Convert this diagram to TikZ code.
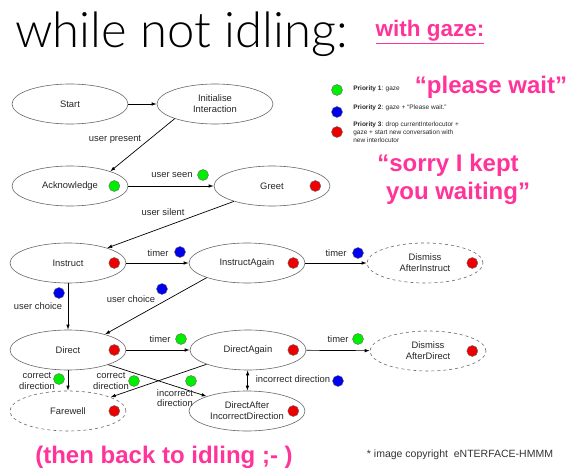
\documentclass[tikz,border=0pt]{standalone}
\usepackage{fontspec}
\setmainfont{Liberation Sans}
\newfontfamily\titlefont{Lato Light}
\usepackage{tikz}
\usetikzlibrary{positioning,calc,shapes.geometric,arrows.meta}
\usepackage{xcolor}
\definecolor{hotpink}{HTML}{FF3399}
\definecolor{dotgreen}{HTML}{00EE00}
\definecolor{dotblue}{HTML}{0000EE}
\definecolor{dotred}{HTML}{EE0000}

\tikzset{
  state/.style={ellipse,draw=black!60,line width=0.6pt,minimum width=116pt,minimum height=40pt,
    inner sep=0pt,align=center,font=\fontsize{9.4}{11}\selectfont,text=black!85},
  endstate/.style={state,dashed},
  lbl/.style={font=\fontsize{9.4}{10.5}\selectfont,text=black!85,inner sep=0pt,align=center},
  legend/.style={font=\fontsize{6.5}{8.3}\selectfont,text=black!85,inner sep=0pt,align=left,anchor=west},
  pinktext/.style={text=hotpink,font=\bfseries\fontsize{24}{28}\selectfont,inner sep=0pt},
  prio1/.style={fill=dotgreen,draw=black!60,line width=0.4pt},
  prio2/.style={fill=dotblue,draw=black!60,line width=0.4pt},
  prio3/.style={fill=dotred,draw=black!60,line width=0.4pt},
}

\begin{document}
\begin{tikzpicture}[x=1pt,y=-1pt,>={Latex[length=5pt,width=3.5pt]},line width=0.7pt]
\useasboundingbox (0,0) rectangle (575,470);

\node[anchor=base west,inner sep=0pt,font=\titlefont\fontsize{49}{50}\selectfont] (title) at (15,48) {while not idling:};
\node[text=hotpink,font=\bfseries\fontsize{22.5}{24}\selectfont,inner sep=0pt] (withgaze) at (430,32) {\underline{with gaze:}};

\node[state] (start) at (70,104) {Start};
\node[state] (init) at (215,104) {Initialise\\Interaction};
\node[state] (ack) at (70,186) {Acknowledge};
\node[state] (greet) at (272,186) {Greet};
\node[state] (instr) at (68,263) {Instruct};
\node[state] (instrAgain) at (247,263) {InstructAgain};
\node[endstate] (dismissI) at (425,263) {Dismiss\\AfterInstruct};
\node[state] (direct) at (68,350) {Direct};
\node[state] (directAgain) at (248,350) {DirectAgain};
\node[endstate] (dismissD) at (428,351) {Dismiss\\AfterDirect};
\node[endstate] (farewell) at (68,411) {Farewell};
\node[state] (dai) at (247,411) {DirectAfter\\IncorrectDirection};

\draw[->] (start) -- (init);
\draw[->] (init.200) -- (ack.20);
\draw[->] (ack) -- (greet);
\draw[->] (greet.202) -- (instr.21);
\draw[->] (instr) -- (instrAgain);
\draw[->] (instrAgain) -- (dismissI);
\draw[->] (instr) -- (direct);
\draw[->] (instrAgain.200) -- (direct.23);
\draw[->] (direct) -- (directAgain);
\draw[->] (directAgain) -- (dismissD);
\draw[->] (direct) -- (farewell);
\draw[->] (directAgain.199) -- (farewell.18);
\draw[->] (direct.340) -- (dai.160);
\draw[<->] (directAgain) -- (dai);

\node[lbl] (lPresent) at (115,139) {user present};
\node[lbl] (lSeen) at (172,175) {user seen};
\node[lbl] (lSilent) at (163,212) {user silent};
\node[lbl] (lTimer1) at (158,253) {timer};
\node[lbl] (lTimer2) at (336,253) {timer};
\node[lbl] (lChoice1) at (38,306) {user choice};
\node[lbl] (lChoice2) at (131,299) {user choice};
\node[lbl] (lTimer3) at (160,339) {timer};
\node[lbl] (lTimer4) at (338,339) {timer};
\node[lbl] (lCorrect1) at (37,381) {correct\\direction};
\node[lbl] (lCorrect2) at (111,381) {correct\\direction};
\node[lbl] (lIncorrect1) at (175,398) {incorrect\\direction};
\node[lbl] (lIncorrect2) at (293,379) {incorrect direction};

\filldraw[prio1] ([xshift=-14pt]ack.east) circle (5.5pt);
\filldraw[prio3] ([xshift=-15pt]greet.east) circle (5.5pt);
\filldraw[prio3] ([xshift=-12pt]instr.east) circle (5.5pt);
\filldraw[prio3] ([xshift=-12pt]instrAgain.east) circle (5.5pt);
\filldraw[prio3] ([xshift=-11pt]dismissI.east) circle (5.5pt);
\filldraw[prio3] ([xshift=-12pt]direct.east) circle (5.5pt);
\filldraw[prio3] ([xshift=-13pt]directAgain.east) circle (5.5pt);
\filldraw[prio3] ([xshift=-14pt]dismissD.east) circle (5.5pt);
\filldraw[prio3] ([xshift=-12pt]farewell.east) circle (5.5pt);
\filldraw[prio3] ([xshift=-12pt]dai.east) circle (5.5pt);

\filldraw[prio1] (203,175) circle (5.5pt);
\filldraw[prio2] (180,252) circle (5.5pt);
\filldraw[prio2] (358,253) circle (5.5pt);
\filldraw[prio2] (59,293) circle (5.5pt);
\filldraw[prio2] (162,289) circle (5.5pt);
\filldraw[prio1] (181,339) circle (5.5pt);
\filldraw[prio1] (358,339) circle (5.5pt);
\filldraw[prio1] (59,379) circle (5.5pt);
\filldraw[prio1] (134,381) circle (5.5pt);
\filldraw[prio1] (191,381) circle (5.5pt);
\filldraw[prio2] (338,381) circle (5.5pt);

\filldraw[prio1] (337,90) circle (5.5pt);
\filldraw[prio2] (337,112) circle (5.5pt);
\filldraw[prio3] (337,132) circle (5.5pt);
\node[legend] (leg1) at (353,89) {\textbf{Priority 1}: gaze};
\node[legend] (leg2) at (353,108) {\textbf{Priority 2}: gaze + “Please wait.”};
\node[legend,anchor=north west] (leg3) at (353,121) {\textbf{Priority 3}: drop currentInterlocutor +\\gaze + start new conversation with\\new interlocutor};

\node[pinktext] (pleasewait) at (491,87) {“please wait”};
\node[pinktext] (sorry1) at (448,165) {“sorry I kept};
\node[pinktext] (sorry2) at (458,193) {you waiting”};
\node[pinktext] (backidle) at (164,457) {(then back to idling ;- )};
\node[font=\fontsize{10.5}{12}\selectfont,text=black!80,inner sep=0pt] (copyr) at (460,455) {* image copyright\ \ eNTERFACE-HMMM};
\end{tikzpicture}
\end{document}
